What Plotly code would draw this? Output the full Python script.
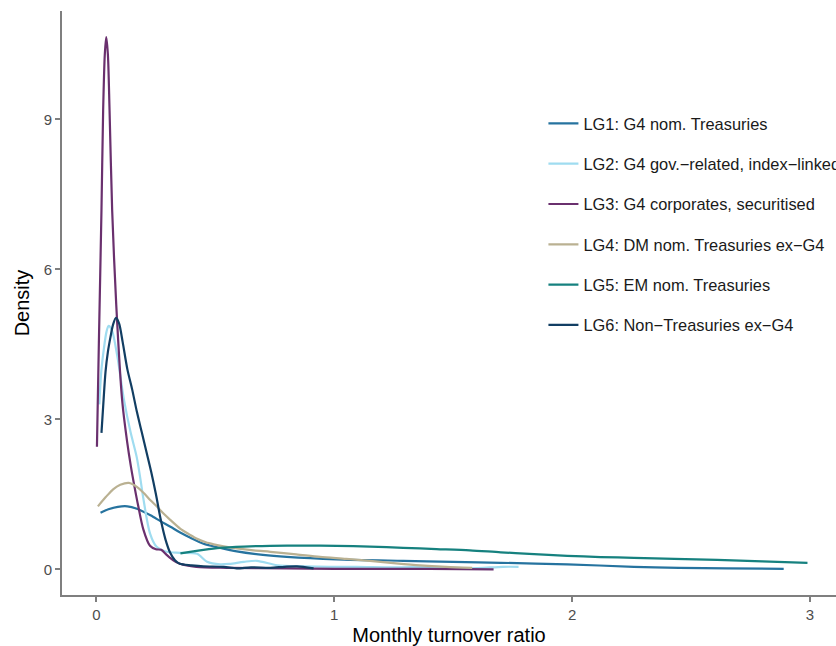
import plotly.graph_objects as go

# Kernel density curves of monthly turnover ratio by liquidity group
lg1_x = [0.017, 0.05, 0.09, 0.13, 0.17, 0.227, 0.27, 0.311, 0.35, 0.395, 0.45, 0.52, 0.59, 0.7, 0.8,
         1.01, 1.29, 1.5, 1.7, 1.98, 2.26, 2.45, 2.65, 2.89]
lg1_y = [1.13, 1.2, 1.25, 1.26, 1.21, 1.08, 0.96, 0.85, 0.74, 0.63, 0.51, 0.43, 0.36, 0.29, 0.25,
         0.2, 0.17, 0.15, 0.13, 0.1, 0.05, 0.03, 0.02, 0.01]

lg2_x = [0.012, 0.02, 0.031, 0.042, 0.051, 0.065, 0.087, 0.115, 0.143, 0.169, 0.185, 0.197, 0.225,
         0.253, 0.295, 0.351, 0.423, 0.465, 0.52, 0.56, 0.62, 0.675, 0.76, 0.87, 0.98, 1.095, 1.25,
         1.43, 1.57, 1.71, 1.775]
lg2_y = [3.3, 3.95, 4.41, 4.75, 4.87, 4.78, 4.28, 3.41, 2.75, 2.25, 1.8, 1.42, 0.72,
         0.45, 0.35, 0.33, 0.31, 0.15, 0.1, 0.11, 0.15, 0.17, 0.08, 0.06, 0.05, 0.05, 0.04,
         0.05, 0.02, 0.05, 0.05]

lg3_x = [0.002, 0.01, 0.021, 0.028, 0.035, 0.041, 0.048, 0.055, 0.066, 0.083, 0.108, 0.129, 0.145,
         0.16, 0.175, 0.197, 0.225, 0.25, 0.272, 0.295, 0.323, 0.351, 0.42, 0.55, 0.8, 1.0, 1.2,
         1.4, 1.67]
lg3_y = [2.45, 4.52, 7.18, 9.18, 10.3, 10.65, 10.3, 9.18, 7.18, 5.3, 3.38, 2.55, 2.05,
         1.65, 1.28, 0.8, 0.47, 0.4, 0.39, 0.29, 0.18, 0.11, 0.05, 0.03, 0.02, 0.01, 0.01,
         0.01, 0.0]

lg4_x = [0.006, 0.04, 0.07, 0.1, 0.136, 0.17, 0.2, 0.227, 0.255, 0.283, 0.31, 0.353, 0.39, 0.423,
         0.46, 0.493, 0.535, 0.59, 0.66, 0.731, 0.84, 0.94, 1.05, 1.15, 1.26, 1.36, 1.47, 1.58]
lg4_y = [1.26, 1.45, 1.6, 1.69, 1.73, 1.65, 1.52, 1.38, 1.25, 1.11, 0.99, 0.81, 0.7, 0.61,
         0.54, 0.5, 0.46, 0.42, 0.38, 0.35, 0.3, 0.25, 0.21, 0.17, 0.12, 0.08, 0.05, 0.03]

lg5_x = [0.353, 0.45, 0.52, 0.62, 0.73, 0.87, 1.01, 1.15, 1.29, 1.43, 1.57, 1.7, 1.82, 1.98, 2.12,
         2.26, 2.43, 2.61, 2.8, 2.99]
lg5_y = [0.32, 0.39, 0.43, 0.455, 0.47, 0.475, 0.47, 0.455, 0.43, 0.405, 0.38, 0.34, 0.31, 0.27, 0.245,
         0.23, 0.21, 0.19, 0.16, 0.13]

lg6_x = [0.021, 0.03, 0.038, 0.048, 0.059, 0.07, 0.082, 0.095, 0.11, 0.13, 0.15, 0.17, 0.19, 0.21,
         0.23, 0.25, 0.27, 0.29, 0.31, 0.33, 0.35, 0.4, 0.45, 0.535, 0.59, 0.65, 0.73, 0.79, 0.843,
         0.913]
lg6_y = [2.73, 3.4, 3.95, 4.35, 4.65, 4.9, 5.03, 4.92, 4.55, 4.0, 3.6, 3.15, 2.75, 2.35,
         1.95, 1.5, 1.0, 0.6, 0.33, 0.18, 0.11, 0.08, 0.06, 0.05, 0.02, 0.04, 0.03, 0.05, 0.06,
         0.02]

series_names = [
    "LG1: G4 nom. Treasuries",
    "LG2: G4 gov.\u2212related, index\u2212linked",
    "LG3: G4 corporates, securitised",
    "LG4: DM nom. Treasuries ex\u2212G4",
    "LG5: EM nom. Treasuries",
    "LG6: Non\u2212Treasuries ex\u2212G4",
]
series_colors = ["#26739f", "#9fdcf0", "#6a306e", "#bab192", "#16817f", "#123e63"]

x_ticks = [0, 1, 2, 3]
y_ticks = [0, 3, 6, 9]

xs = [lg1_x, lg2_x, lg3_x, lg4_x, lg5_x, lg6_x]
ys = [lg1_y, lg2_y, lg3_y, lg4_y, lg5_y, lg6_y]

fig = go.Figure()
for i, (name, col, xv, yv) in enumerate(zip(series_names, series_colors, xs, ys)):
    fig.add_trace(go.Scatter(
        x=xv, y=yv, name=name, mode="lines",
        line=dict(color=col, width=2.2, shape="spline", smoothing=0.8),
        legendgroup=f"g{i}",
    ))

axis_grey = "#7f7f7f"
fig.update_layout(
    width=836, height=646,
    margin=dict(l=62, r=0, t=11, b=51, autoexpand=False),
    paper_bgcolor="white", plot_bgcolor="white",
    font=dict(family="Liberation Sans, Arial, sans-serif", color="#4d4d4d"),
    showlegend=True,
    legend=dict(
        x=0.622, y=0.837, xanchor="left", yanchor="top",
        font=dict(size=16.4, color="#1a1a1a"),
        tracegroupgap=16, itemwidth=30, bgcolor="rgba(0,0,0,0)",
    ),
    xaxis=dict(
        range=[-0.145, 3.11], tickvals=x_ticks, ticktext=[str(v) for v in x_ticks],
        showgrid=False, zeroline=False, showline=True, linecolor=axis_grey, linewidth=2,
        ticks="outside", ticklen=5, tickwidth=2, tickcolor=axis_grey,
        tickfont=dict(size=15, color="#4d4d4d"),
        title=dict(text="Monthly turnover ratio", font=dict(size=20, color="#000000"), standoff=8),
    ),
    yaxis=dict(
        range=[-0.514, 11.17], tickvals=y_ticks, ticktext=[str(v) for v in y_ticks],
        showgrid=False, zeroline=False, showline=True, linecolor=axis_grey, linewidth=2,
        ticks="outside", ticklen=5, tickwidth=2, tickcolor=axis_grey,
        tickfont=dict(size=15, color="#4d4d4d"),
        title=dict(text="Density", font=dict(size=20, color="#000000"), standoff=9),
    ),
)

fig.write_html("out.html")
